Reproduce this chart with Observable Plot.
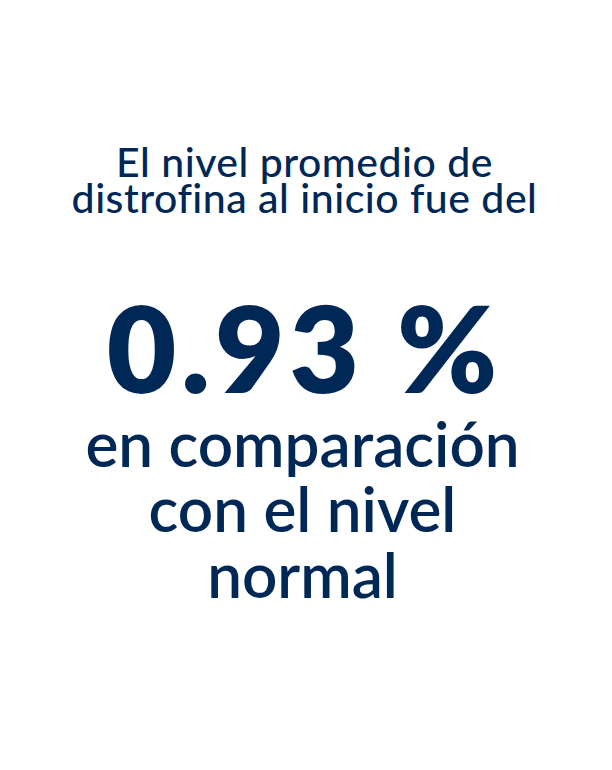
<!DOCTYPE html>
<html>
<head>
<meta charset="utf-8">
<script src="https://cdn.jsdelivr.net/npm/d3@7"></script>
<script src="https://cdn.jsdelivr.net/npm/@observablehq/plot@0.6"></script>
<style>
  html, body { margin: 0; padding: 0; background: #ffffff; }
  #chart { width: 612px; height: 770px; }
  svg { display: block; }
  .intro text { letter-spacing: 0.5px; }
  .big text { letter-spacing: 5px; }
  .comp text { letter-spacing: 0px; }
</style>
</head>
<body>
<div id="chart"></div>
<script>
// Content of the graphic
const introLines = ["El nivel promedio de", "distrofina al inicio fue del"];
const headlineValue = [0.93];
const headlineUnit = "%";
const comparisonLines = ["en comparación", "con el nivel", "normal"];

const navy = "#002856";
const font = "Lato, 'Open Sans', sans-serif";

const plot = Plot.plot({
  width: 612,
  height: 770,
  margin: 0,
  x: {axis: null},
  y: {axis: null},
  style: {background: "#ffffff"},
  marks: [
    Plot.text([introLines.join("\n")], {
      text: d => d,
      frameAnchor: "top",
      lineAnchor: "bottom",
      dy: 212,
      dx: -2,
      lineHeight: 0.86,
      fontSize: 41,
      fontWeight: 500,
      fontFamily: font,
      fill: navy,
      className: "intro"
    }),
    Plot.text(headlineValue, {
      text: d => `${d.toFixed(2)} ${headlineUnit}`,
      frameAnchor: "top",
      lineAnchor: "bottom",
      dy: 392,
      dx: -2,
      fontSize: 120,
      fontWeight: 800,
      fontFamily: font,
      fill: navy,
      className: "big"
    }),
    Plot.text([comparisonLines.join("\n")], {
      text: d => d,
      frameAnchor: "top",
      lineAnchor: "bottom",
      dy: 597,
      dx: -4,
      lineHeight: 1.05,
      fontSize: 62,
      fontWeight: 600,
      fontFamily: font,
      fill: navy,
      className: "comp"
    })
  ]
});
document.getElementById("chart").appendChild(plot);
</script>
</body>
</html>
